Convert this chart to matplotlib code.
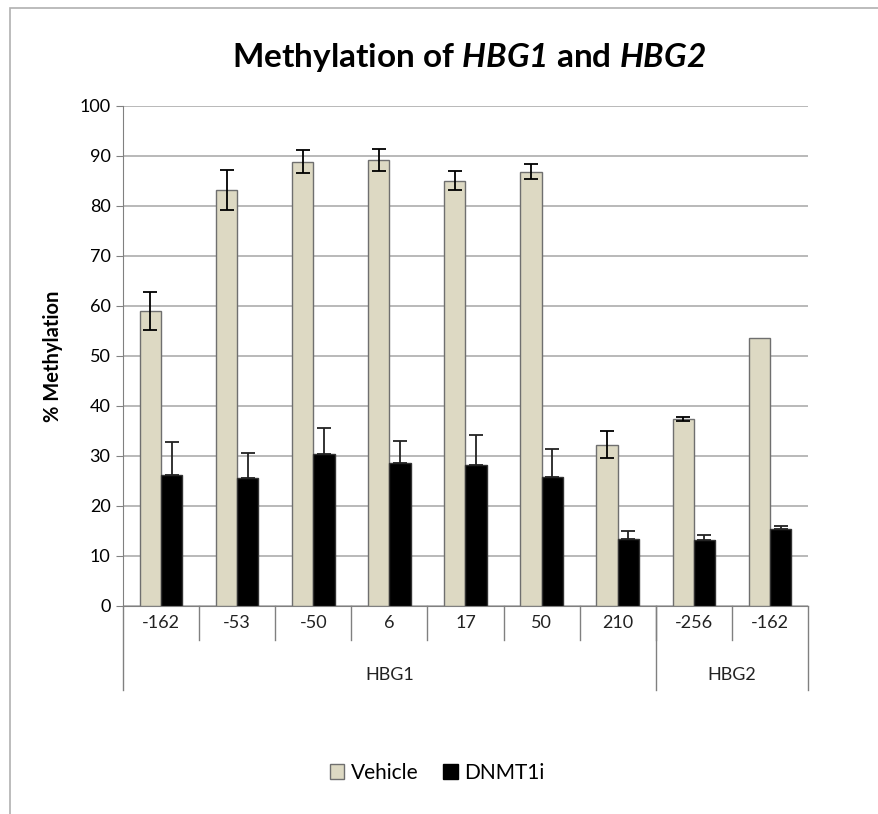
import matplotlib
matplotlib.use("Agg")
import matplotlib.pyplot as plt
import matplotlib.patches as mpatches
import matplotlib.transforms as mtrans
import numpy as np

plt.rcParams['font.family'] = ['Lato', 'DejaVu Sans']
plt.rcParams['mathtext.fontset'] = 'custom'
plt.rcParams['mathtext.rm'] = 'Lato'
plt.rcParams['mathtext.bfit'] = 'Lato:italic:bold'

# data
positions = ['-162', '-53', '-50', '6', '17', '50', '210', '-256', '-162']
groups = ['HBG1', 'HBG2']
group_sizes = [7, 2]
vehicle = [59.1, 83.2, 88.9, 89.2, 85.1, 86.9, 32.3, 37.4, 53.6]
vehicle_err = [3.8, 3.9, 2.3, 2.2, 1.9, 1.4, 2.7, 0.4, 0.0]
dnmt1i = [26.3, 25.7, 30.5, 28.7, 28.3, 25.9, 13.5, 13.2, 15.5]
dnmt1i_err = [6.5, 4.9, 5.1, 4.3, 6.0, 5.5, 1.5, 1.1, 0.5]

W, H = 879, 814
fig = plt.figure(figsize=(W / 100, H / 100), dpi=100)
ax = fig.add_axes([123 / W, 1 - 606 / H, (808 - 123) / W, 500 / H])

x = np.arange(len(positions))
bw = 0.28
ax.bar(x - bw / 2, vehicle, bw, color='#ddd9c3', edgecolor='#6f6f6f', linewidth=1.0, zorder=3)
ax.bar(x + bw / 2, dnmt1i, bw, color='black', edgecolor='#333333', linewidth=1.0, zorder=3)

# only bars that have an error value get a bar
ve = np.array(vehicle_err)
m = ve > 0
ax.errorbar((x - bw / 2)[m], np.array(vehicle)[m], yerr=ve[m], fmt='none', ecolor='black',
            elinewidth=1.3, capsize=5, capthick=1.3, zorder=4)
de = np.array(dnmt1i_err)
ax.errorbar(x + bw / 2, dnmt1i, yerr=[np.zeros(len(de)), de], fmt='none',
            ecolor='#222222', elinewidth=1.3, capsize=5, capthick=1.3, zorder=4)

ax.set_xlim(-0.5, len(positions) - 0.5)
ax.set_ylim(0, 100)
ax.set_yticks(np.arange(0, 101, 10))
ax.tick_params(axis='y', labelsize=13, length=5, color='#808080', pad=4)
ax.set_xticks([])
ax.yaxis.grid(True, color='#a6a6a6', linewidth=1.1, zorder=0)
for s in ['top', 'right']:
    ax.spines[s].set_visible(False)
ax.spines['left'].set_color('#808080')
ax.spines['bottom'].set_color('#808080')

ax.set_ylabel('% Methylation', fontsize=14.5, fontweight='bold', labelpad=12)

# two-level category axis
tr = mtrans.blended_transform_factory(ax.transData, ax.transAxes)
for i, lab in enumerate(positions):
    ax.text(i, -0.034, lab, transform=tr, ha='center', va='center', fontsize=13, color='#222222')
for i in range(1, len(positions)):
    ax.plot([i - 0.5, i - 0.5], [0, -0.068], transform=tr, color='#808080', lw=1, clip_on=False)
start = 0
for g, n in zip(groups, group_sizes):
    ax.text(start + n / 2 - 0.5, -0.138, g, transform=tr, ha='center', va='center',
            fontsize=13, color='#222222')
    start += n
edges = [0]
for n in group_sizes:
    edges.append(edges[-1] + n)
for e in edges:
    ax.plot([e - 0.5, e - 0.5], [0, -0.168], transform=tr, color='#808080', lw=1, clip_on=False)

fig.text(0.534, 1 - 58 / H, 'Methylation of $\\mathbfit{HBG1}$ and $\\mathbfit{HBG2}$',
         ha='center', va='center', fontsize=24, fontweight='bold')

handles = [mpatches.Patch(facecolor='#ddd9c3', edgecolor='#6f6f6f', label='Vehicle'),
           mpatches.Patch(facecolor='black', edgecolor='black', label='DNMT1i')]
fig.legend(handles=handles, loc='center', bbox_to_anchor=(437 / W, 1 - 773 / H), ncol=2,
           frameon=False, fontsize=15, handlelength=0.7, handleheight=0.7,
           handletextpad=0.3, columnspacing=1.2)

fig.patches.append(mpatches.Rectangle((10 / W, -0.1), 1.2, 1.1 - 8 / H, transform=fig.transFigure,
                                      fill=False, edgecolor='#b0b0b0', linewidth=1.2))

fig.savefig('out.png', dpi=100)
